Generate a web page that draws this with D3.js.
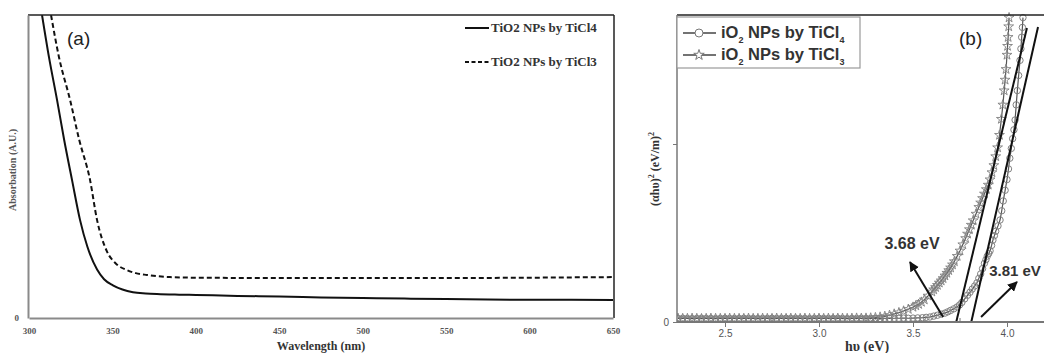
<!DOCTYPE html>
<html>
  <head>
    <meta charset="utf-8" />
    <title>TiO2 absorption and Tauc plot</title>
    <script src="https://d3js.org/d3.v7.min.js"></script>
    <style>
        body {margin: 0; background: #fff;}
        svg {display: block;}
        .serif {font-family: "Liberation Serif", "Times New Roman", serif; font-weight: bold;}
        .sans {font-family: "Liberation Sans", Arial, sans-serif;}
    </style>
  </head>
  <body>

    <svg id="chart" width="1044" height="353"></svg>

    <script>

        // ---- panel (a) data: UV-vis absorbance
        var wlTiCl4 = [307.8, 312, 316.8, 321, 325.8, 330.6, 335, 340.8, 345, 350.3, 356, 362.3, 370, 376.7, 390, 400, 425, 450, 475, 500, 525, 550, 575, 600, 625, 650];
        var absTiCl4 = [1.0, 0.86, 0.72, 0.59, 0.455, 0.323, 0.235, 0.16, 0.128, 0.108, 0.094, 0.085, 0.081, 0.079, 0.077, 0.076, 0.073, 0.071, 0.068, 0.066, 0.064, 0.063, 0.061, 0.060, 0.060, 0.059];

        var wlTiCl3 = [313.2, 318, 324.6, 330, 336.6, 340.8, 346.7, 352, 358.7, 364, 370.7, 384.5, 400, 450, 500, 550, 600, 625, 650];
        var absTiCl3 = [1.0, 0.86, 0.72, 0.59, 0.455, 0.323, 0.22, 0.18, 0.158, 0.148, 0.142, 0.135, 0.133, 0.132, 0.132, 0.132, 0.133, 0.134, 0.135];

        var wlTicks = [300, 350, 400, 450, 500, 550, 600, 650];
        var legendA = ["TiO2 NPs by TiCl4", "TiO2 NPs by TiCl3"];

        // ---- panel (b) data: Tauc plot, (alpha h nu)^2 in arbitrary units
        var eTiCl4 = [2.25, 2.275, 2.30, 2.325, 2.35, 2.375, 2.40, 2.425, 2.45, 2.475, 2.50, 2.525, 2.55, 2.575, 2.60, 2.625, 2.65, 2.675, 2.70, 2.725, 2.75, 2.775,
                      2.80, 2.825, 2.85, 2.875, 2.90, 2.925, 2.95, 2.975, 3.00, 3.025, 3.05, 3.075, 3.10, 3.125, 3.15, 3.175, 3.20, 3.225, 3.25, 3.275, 3.30,
                      3.325, 3.35, 3.375, 3.40, 3.425, 3.45, 3.475, 3.50, 3.525, 3.55,
                      3.57, 3.59, 3.61, 3.63, 3.65, 3.67, 3.685, 3.70, 3.717, 3.734, 3.748, 3.76, 3.775, 3.79, 3.803, 3.815, 3.828, 3.84, 3.85, 3.86, 3.87, 3.88,
                      3.888, 3.895, 3.903, 3.91, 3.918, 3.925, 3.933, 3.94, 3.952, 3.963, 3.972, 3.98, 3.99, 4.00, 4.008, 4.015, 4.023, 4.03, 4.037, 4.043,
                      4.049, 4.055, 4.062, 4.069, 4.074, 4.078, 4.082, 4.085];
        var tTiCl4 = [0.020, 0.021, 0.020, 0.019, 0.020, 0.021, 0.020, 0.020, 0.019, 0.020, 0.021, 0.020, 0.020, 0.020, 0.021, 0.020, 0.020, 0.019, 0.020, 0.020, 0.021, 0.020,
                      0.020, 0.021, 0.020, 0.021, 0.020, 0.020, 0.019, 0.020, 0.021, 0.020, 0.020, 0.020, 0.021, 0.020, 0.019, 0.020, 0.020, 0.021, 0.020, 0.020, 0.021,
                      0.020, 0.021, 0.020, 0.021, 0.021, 0.022, 0.021, 0.022, 0.023, 0.024,
                      0.026, 0.028, 0.033, 0.038, 0.044, 0.050, 0.057, 0.065, 0.074, 0.084, 0.096, 0.11, 0.13, 0.15, 0.167, 0.185, 0.202, 0.22, 0.245, 0.27, 0.30, 0.33,
                      0.35, 0.37, 0.385, 0.40, 0.43, 0.46, 0.485, 0.51, 0.54, 0.573, 0.625, 0.68, 0.74, 0.80, 0.86, 0.92, 0.975, 1.03, 1.08, 1.135,
                      1.22, 1.30, 1.385, 1.47, 1.535, 1.60, 1.655, 1.71];

        var eTiCl3 = [2.25, 2.275, 2.30, 2.325, 2.35, 2.375, 2.40, 2.425, 2.45, 2.475, 2.50, 2.525, 2.55, 2.575, 2.60, 2.625, 2.65, 2.675, 2.70, 2.725, 2.75, 2.775,
                      2.80, 2.825, 2.85, 2.875, 2.90, 2.925, 2.95, 2.975, 3.00, 3.025, 3.05, 3.075, 3.10, 3.125, 3.15, 3.175, 3.20, 3.225, 3.25, 3.275, 3.30,
                      3.325, 3.35, 3.375, 3.40, 3.425, 3.45, 3.475, 3.50, 3.515, 3.53, 3.545, 3.56, 3.58, 3.60, 3.61, 3.62, 3.63, 3.64, 3.65, 3.66, 3.67, 3.68,
                      3.69, 3.70, 3.71, 3.72, 3.735, 3.75, 3.765, 3.78, 3.79, 3.80, 3.81, 3.82, 3.835, 3.85, 3.86, 3.87, 3.88, 3.89, 3.90, 3.91, 3.92, 3.93,
                      3.94, 3.95, 3.96, 3.97, 3.978, 3.985, 3.99, 3.995, 4.00, 4.003, 4.006, 4.009, 4.011];
        var tTiCl3 = [0.021, 0.020, 0.020, 0.021, 0.020, 0.019, 0.020, 0.021, 0.020, 0.020, 0.020, 0.021, 0.020, 0.020, 0.020, 0.021, 0.020, 0.020, 0.021, 0.020, 0.020, 0.021,
                      0.020, 0.020, 0.021, 0.020, 0.020, 0.021, 0.020, 0.020, 0.021, 0.020, 0.021, 0.020, 0.021, 0.021, 0.020, 0.021, 0.022, 0.021, 0.022, 0.023, 0.025,
                      0.028, 0.032, 0.038, 0.045, 0.053, 0.062, 0.072, 0.084, 0.092, 0.10, 0.112, 0.125, 0.147, 0.17, 0.182, 0.195, 0.207, 0.22, 0.232, 0.245, 0.26, 0.275,
                      0.29, 0.305, 0.322, 0.34, 0.37, 0.40, 0.435, 0.47, 0.495, 0.52, 0.545, 0.57, 0.607, 0.645, 0.67, 0.695, 0.72, 0.745, 0.77, 0.80, 0.84, 0.88,
                      0.93, 0.98, 1.05, 1.14, 1.22, 1.30, 1.36, 1.42, 1.50, 1.55, 1.60, 1.66, 1.71];

        // linear fits: [x0, y0, x1, y1] in eV / arbitrary units
        var fitTiCl3 = [3.73, 0, 4.106, 1.652];
        var fitTiCl4 = [3.81, 0, 4.165, 1.657];

        var eMajor = [2.5, 3.0, 3.5, 4.0];
        var eMinor = [2.75, 3.25, 3.75];
        var legendB = ["TiCl4", "TiCl3"];

        var svg = d3.select("#chart");

        // ================= panel (a) =================
        var ax = d3.scaleLinear().domain([300, 650]).range([29, 613]);
        var ay = d3.scaleLinear().domain([0, 1]).range([318, 15]);

        svg.append("clipPath").attr("id", "clipA")
            .append("rect").attr("x", 28).attr("y", 15).attr("width", 586).attr("height", 303);

        var lineA = function(xs, ys) {
            return d3.line()
                .x(function(d, i){ return ax(xs[i]); })
                .y(function(d, i){ return ay(ys[i]); })
                .curve(d3.curveMonotoneX)(xs);
        };

        var gA = svg.append("g").attr("clip-path", "url(#clipA)");
        gA.append("path").attr("d", lineA(wlTiCl4, absTiCl4))
            .attr("fill", "none").attr("stroke", "#111").attr("stroke-width", 2);
        gA.append("path").attr("d", lineA(wlTiCl3, absTiCl3))
            .attr("fill", "none").attr("stroke", "#111").attr("stroke-width", 2)
            .attr("stroke-dasharray", "5,3");

        // frame: top/right black, left/bottom gray
        svg.append("line").attr("x1", ax(300) - 1).attr("x2", ax(650) + 1).attr("y1", ay(1)).attr("y2", ay(1))
            .attr("stroke", "#222").attr("stroke-width", 1.5);
        svg.append("line").attr("x1", ax(650) + 1).attr("x2", ax(650) + 1).attr("y1", ay(1)).attr("y2", ay(0))
            .attr("stroke", "#222").attr("stroke-width", 1.5);

        var xAxisA = svg.append("g").attr("transform", "translate(0," + ay(0) + ")")
            .call(d3.axisBottom(ax).tickValues(wlTicks).tickSize(0).tickPadding(10).tickFormat(d3.format("d")));
        xAxisA.select(".domain").attr("stroke", "#8a8a8a").attr("stroke-width", 2);
        xAxisA.selectAll("text").attr("class", "serif").attr("font-size", 9).attr("fill", "#555");

        var yAxisA = svg.append("g").attr("transform", "translate(" + (ax(300) - 1) + ",0)")
            .call(d3.axisLeft(ay).tickValues([0]).tickSize(0).tickPadding(9).tickFormat(d3.format("d")));
        yAxisA.select(".domain").attr("stroke", "#8a8a8a").attr("stroke-width", 2);
        yAxisA.selectAll("text").attr("class", "serif").attr("font-size", 9).attr("fill", "#555");

        svg.append("text").attr("class", "serif")
            .attr("x", 321).attr("y", 350).attr("text-anchor", "middle")
            .attr("font-size", 12).attr("fill", "#333").text("Wavelength (nm)");

        svg.append("text").attr("class", "serif")
            .attr("transform", "translate(16,170) rotate(-90)").attr("text-anchor", "middle")
            .attr("font-size", 10).attr("fill", "#555").text("Absorbation (A.U.)");

        svg.append("text").attr("class", "sans")
            .attr("x", 67).attr("y", 45).attr("font-size", 19).attr("fill", "#222").text("(a)");

        // legend (a)
        legendA.forEach(function(name, i) {
            var yy = 28 + i * 34;
            svg.append("line").attr("x1", 465).attr("x2", 489).attr("y1", yy).attr("y2", yy)
                .attr("stroke", "#111").attr("stroke-width", 2)
                .attr("stroke-dasharray", i === 1 ? "4,2.5" : null);
            svg.append("text").attr("class", "serif")
                .attr("x", 491).attr("y", yy + 4).attr("font-size", 13).attr("fill", "#333").text(name);
        });

        // ================= panel (b) =================
        var bx = d3.scaleLinear().domain([2.5, 4.0]).range([725, 1007]);
        var by = d3.scaleLinear().domain([0, 1]).range([322, 144]);
        var bLeft = 677, bTop = 15, bBottom = 322;

        svg.append("clipPath").attr("id", "clipB")
            .append("rect").attr("x", bLeft).attr("y", 10).attr("width", 1044 - bLeft).attr("height", bBottom - 10);

        var gB = svg.append("g").attr("clip-path", "url(#clipB)");

        var lineB = function(xs, ys) {
            return d3.line()
                .x(function(d, i){ return bx(xs[i]); })
                .y(function(d, i){ return by(ys[i]); })(xs);
        };

        gB.append("path").attr("d", lineB(eTiCl4, tTiCl4))
            .attr("fill", "none").attr("stroke", "#555").attr("stroke-width", 1.2);
        gB.append("path").attr("d", lineB(eTiCl3, tTiCl3))
            .attr("fill", "none").attr("stroke", "#555").attr("stroke-width", 1.2);

        gB.selectAll(".circ").data(eTiCl4).enter().append("circle")
            .attr("class", "circ")
            .attr("cx", function(d){ return bx(d); })
            .attr("cy", function(d, i){ return by(tTiCl4[i]); })
            .attr("r", 3.2)
            .attr("fill", "none").attr("stroke", "#808080").attr("stroke-width", 1);

        var star = d3.symbol().type(d3.symbolStar).size(30);
        gB.selectAll(".star").data(eTiCl3).enter().append("path")
            .attr("class", "star")
            .attr("d", star)
            .attr("transform", function(d, i){ return "translate(" + bx(d) + "," + by(tTiCl3[i]) + ")"; })
            .attr("fill", "none").attr("stroke", "#808080").attr("stroke-width", 0.9);

        [fitTiCl3, fitTiCl4].forEach(function(f) {
            gB.append("line")
                .attr("x1", bx(f[0])).attr("y1", by(f[1]))
                .attr("x2", bx(f[2])).attr("y2", by(f[3]))
                .attr("stroke", "#111").attr("stroke-width", 2);
        });

        // axes (b)
        svg.append("line").attr("x1", bLeft).attr("x2", 1044).attr("y1", bTop).attr("y2", bTop)
            .attr("stroke", "#222").attr("stroke-width", 1.5);

        var xAxisB = svg.append("g").attr("transform", "translate(0," + bBottom + ")")
            .call(d3.axisBottom(bx).tickValues(eMajor).tickSize(5).tickPadding(3).tickFormat(d3.format(".1f")));
        xAxisB.select(".domain").attr("d", "M" + bLeft + ",0H1044").attr("stroke", "#777").attr("stroke-width", 2);
        xAxisB.selectAll("line").attr("stroke", "#777");
        xAxisB.selectAll("text").attr("class", "sans").attr("font-size", 10).attr("fill", "#555");

        svg.append("g").attr("transform", "translate(0," + bBottom + ")")
            .selectAll("line").data(eMinor).enter().append("line")
            .attr("x1", function(d){ return bx(d); }).attr("x2", function(d){ return bx(d); })
            .attr("y1", -4).attr("y2", 0).attr("stroke", "#777");

        var yAxisB = svg.append("g").attr("transform", "translate(" + bLeft + ",0)")
            .call(d3.axisLeft(by).tickValues([0, 1]).tickSize(4).tickPadding(4)
                .tickFormat(function(d){ return d === 0 ? "0" : ""; }));
        yAxisB.select(".domain").attr("d", "M0," + bTop + "V" + bBottom).attr("stroke", "#777").attr("stroke-width", 1.5);
        yAxisB.selectAll("line").attr("stroke", "#777");
        yAxisB.selectAll("text").attr("class", "sans").attr("font-size", 10).attr("fill", "#555");

        // axis titles (b)
        svg.append("text").attr("class", "serif")
            .attr("x", 867).attr("y", 351).attr("text-anchor", "middle")
            .attr("font-size", 14).attr("fill", "#333")
            .text("h\u03C5 (eV)");

        var yt = svg.append("text").attr("class", "serif")
            .attr("transform", "translate(659,169) rotate(-90)").attr("text-anchor", "middle")
            .attr("font-size", 12).attr("fill", "#333");
        yt.append("tspan").text("(\u03B1h\u03C5)");
        yt.append("tspan").attr("dy", -5).attr("font-size", 8).text("2");
        yt.append("tspan").attr("dy", 5).text(" (eV/m)");
        yt.append("tspan").attr("dy", -5).attr("font-size", 8).text("2");

        svg.append("text").attr("class", "sans")
            .attr("x", 959).attr("y", 45).attr("font-size", 19).attr("fill", "#222").text("(b)");

        // band gap annotations
        var notes = [
            {label: "3.68 eV", tx: 3.495, ty: 0.444, anchor: "middle", size: 16, from: [3.66, 0.028], to: [3.484, 0.337]},
            {label: "3.81 eV", tx: 3.905, ty: 0.292, anchor: "start", size: 15, from: [3.862, 0.028], to: [4.053, 0.225]}
        ];

        svg.append("defs").append("marker").attr("id", "head")
            .attr("viewBox", "0 0 10 10").attr("refX", 9).attr("refY", 5)
            .attr("markerWidth", 5).attr("markerHeight", 5).attr("orient", "auto")
            .append("path").attr("d", "M0,0L10,5L0,10z").attr("fill", "#111");

        notes.forEach(function(n) {
            svg.append("line")
                .attr("x1", bx(n.from[0])).attr("y1", by(n.from[1]))
                .attr("x2", bx(n.to[0])).attr("y2", by(n.to[1]))
                .attr("stroke", "#111").attr("stroke-width", 2)
                .attr("marker-end", "url(#head)");
            svg.append("text").attr("class", "sans")
                .attr("x", bx(n.tx)).attr("y", by(n.ty) + 6)
                .attr("text-anchor", n.anchor).attr("font-size", n.size).attr("font-weight", "bold")
                .attr("fill", "#333").text(n.label);
        });

        // legend (b)
        var lg = svg.append("g");
        lg.append("rect").attr("x", bLeft).attr("y", 17).attr("width", 183).attr("height", 51)
            .attr("fill", "#fff").attr("stroke", "#999").attr("stroke-width", 1.2);

        legendB.forEach(function(name, i) {
            var yy = 33 + i * 22;
            lg.append("line").attr("x1", 683).attr("x2", 716).attr("y1", yy).attr("y2", yy)
                .attr("stroke", "#444").attr("stroke-width", 1.5);
            if (i === 0) {
                lg.append("circle").attr("cx", 699).attr("cy", yy).attr("r", 4)
                    .attr("fill", "#fff").attr("stroke", "#777").attr("stroke-width", 1);
            } else {
                lg.append("path").attr("d", d3.symbol().type(d3.symbolStar).size(34))
                    .attr("transform", "translate(699," + yy + ")")
                    .attr("fill", "#fff").attr("stroke", "#777").attr("stroke-width", 1);
            }
            var t = lg.append("text").attr("class", "sans")
                .attr("x", 721).attr("y", yy + 5).attr("font-size", 16.5).attr("font-weight", "bold").attr("fill", "#333");
            t.append("tspan").text("iO");
            t.append("tspan").attr("dy", 5).attr("font-size", 9).text("2");
            t.append("tspan").attr("dy", -5).text(" NPs by " + name.slice(0, 4));
            t.append("tspan").attr("dy", 5).attr("font-size", 9).text(name.slice(4));
        });

    </script>

  </body>
</html>
